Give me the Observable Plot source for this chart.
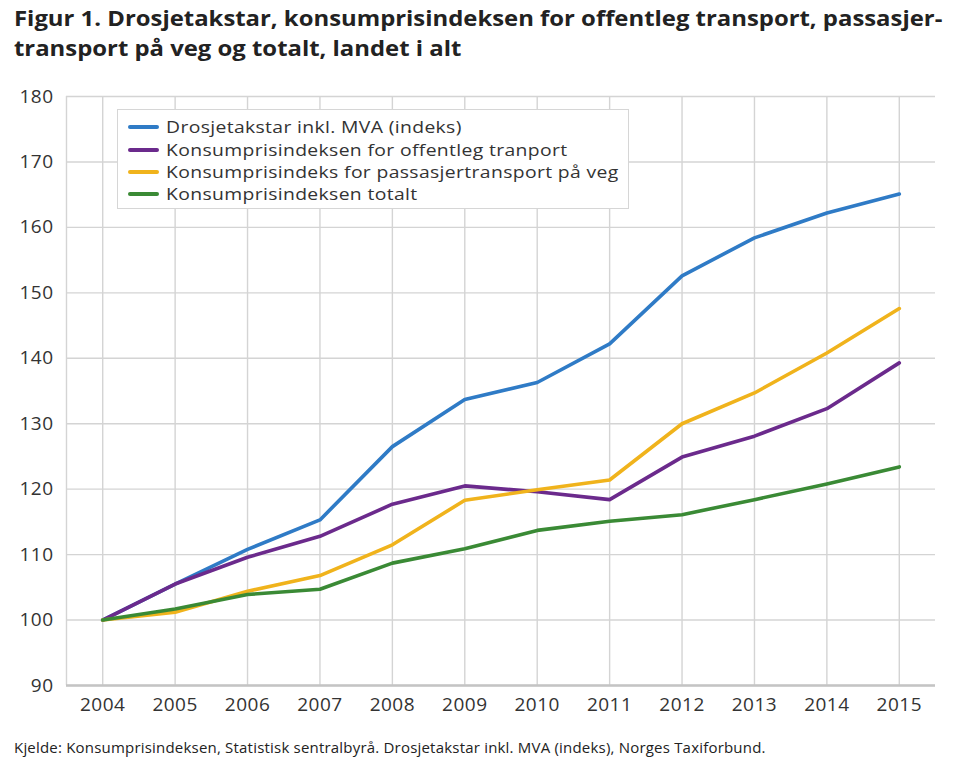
<!DOCTYPE html>
<html>
<head>
<meta charset="utf-8">
<script src="https://cdn.jsdelivr.net/npm/d3@7"></script>
<script src="https://cdn.jsdelivr.net/npm/@observablehq/plot@0.6"></script>
<style>
  body { margin: 0; background: #fff; font-family: "Open Sans", sans-serif; }
  #wrap { position: relative; width: 960px; height: 766px; }
  #title { position: absolute; left: 14px; top: 2px; font-weight: 700; font-size: 22px;
    line-height: 30px; color: #222; white-space: nowrap; transform: scaleX(1.085); transform-origin: left top; }
  #chart { position: absolute; left: 0; top: 80px; }
  #legend { position: absolute; left: 117px; top: 109px; width: 512px; height: 100px; background: #fff;
    border: 1px solid #d6d6d6; box-sizing: border-box; padding-top: 6px; }
  .row { height: 22.4px; display: flex; align-items: center; color: #333; }
  .row span { display: inline-block; font-size: 16.4px; line-height: 22px; letter-spacing: 0.3px;
    transform: scaleX(1.18); transform-origin: left center; white-space: nowrap; }
  .sw { width: 31px; height: 4px; border-radius: 2px; margin-left: 10px; margin-right: 7px; }
  #caption { position: absolute; left: 14px; top: 737px; font-size: 15px; letter-spacing: 0.2px; color: #222; }
</style>
</head>
<body>
<div id="wrap">
  <div id="title">Figur 1. Drosjetakstar, konsumprisindeksen for offentleg transport, passasjer-<br>transport på veg og totalt, landet i alt</div>
  <div id="chart"></div>
  <div id="legend"></div>
  <div id="caption">Kjelde: Konsumprisindeksen, Statistisk sentralbyrå. Drosjetakstar inkl. MVA (indeks), Norges Taxiforbund.</div>
</div>
<script>
const years = [2004, 2005, 2006, 2007, 2008, 2009, 2010, 2011, 2012, 2013, 2014, 2015]

const seriesNames = [
  "Drosjetakstar inkl. MVA (indeks)",
  "Konsumprisindeksen for offentleg tranport",
  "Konsumprisindeks for passasjertransport på veg",
  "Konsumprisindeksen totalt"
]
const seriesColors = ["#2f7bc6", "#6b2a8c", "#f0b31c", "#3a8a35"]

const drosje = [100, 105.5, 110.8, 115.3, 126.5, 133.7, 136.3, 142.2, 152.6, 158.4, 162.2, 165.1]
const kpiOffentleg = [100, 105.5, 109.6, 112.8, 117.7, 120.5, 119.6, 118.4, 124.9, 128.1, 132.3, 139.3]
const kpiVeg = [100, 101.2, 104.4, 106.8, 111.5, 118.3, 119.9, 121.4, 130.0, 134.7, 140.8, 147.6]
const kpiTotalt = [100, 101.7, 103.9, 104.7, 108.7, 110.9, 113.7, 115.1, 116.1, 118.4, 120.8, 123.4]

const yTicks = [90, 100, 110, 120, 130, 140, 150, 160, 170, 180]

const allSeries = [drosje, kpiOffentleg, kpiVeg, kpiTotalt]
const rows = []
allSeries.forEach((vals, i) => {
  vals.forEach((v, j) => rows.push({year: years[j], value: v, series: seriesNames[i]}))
})

const chart = Plot.plot({
  width: 960,
  height: 640,
  marginTop: 16,
  marginBottom: 35,
  marginLeft: 66,
  marginRight: 25,
  style: {fontFamily: "Open Sans", fontSize: "19px", letterSpacing: "0.5px", color: "#333", background: "transparent"},
  x: {domain: [2003.5, 2015.5]},
  y: {domain: [90, 180]},
  color: {domain: seriesNames, range: seriesColors},
  marks: [
    Plot.gridX(years, {stroke: "#d4d4d4", strokeOpacity: 1, strokeWidth: 1.4}),
    Plot.gridY(yTicks, {stroke: "#d4d4d4", strokeOpacity: 1, strokeWidth: 1.4}),
    Plot.ruleX([2003.5], {stroke: "#d4d4d4", strokeWidth: 1.4}),
    Plot.ruleY([90], {stroke: "#c4c4c4", strokeWidth: 2.5}),
    Plot.axisX(years, {tickSize: 0, tickPadding: 12, tickFormat: "d", label: null, fontSize: 19}),
    Plot.axisY(yTicks, {tickSize: 0, tickPadding: 13, label: null, fontSize: 19}),
    Plot.line(rows, {x: "year", y: "value", z: "series", stroke: "series", strokeWidth: 3.6, strokeLinejoin: "round"})
  ]
})
document.getElementById("chart").append(chart)

const legend = d3.select("#legend")
seriesNames.forEach((name, i) => {
  const r = legend.append("div").attr("class", "row")
  r.append("div").attr("class", "sw").style("background", seriesColors[i])
  r.append("span").text(name)
})
</script>
</body>
</html>
